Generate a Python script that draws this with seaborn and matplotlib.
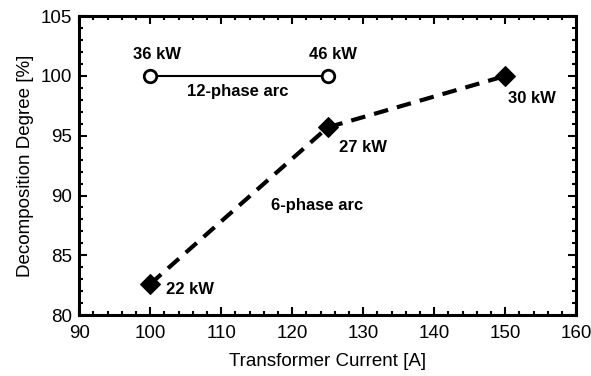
import pandas as pd
import seaborn as sns
import matplotlib.pyplot as plt
from matplotlib.ticker import MultipleLocator

# 6-phase arc (dashed, filled diamonds)
six_current = [100, 125, 150]
six_degree = [82.6, 95.7, 100.0]
six_power = ['22 kW', '27 kW', '30 kW']

# 12-phase arc (solid, open circles)
twelve_current = [100, 125]
twelve_degree = [100.0, 100.0]
twelve_power = ['36 kW', '46 kW']

sns.set_style("ticks")
plt.rcParams['font.family'] = ['Liberation Sans', 'DejaVu Sans']
plt.rcParams.update({'text.color': 'black', 'axes.labelcolor': 'black',
                     'xtick.color': 'black', 'ytick.color': 'black',
                     'axes.edgecolor': 'black'})

six = pd.DataFrame({'current': six_current, 'degree': six_degree})
twelve = pd.DataFrame({'current': twelve_current, 'degree': twelve_degree})

fig, ax = plt.subplots(figsize=(5.91, 3.76), dpi=100)
fig.subplots_adjust(left=0.134, right=0.975, top=0.957, bottom=0.162)

sns.lineplot(data=six, x='current', y='degree', ax=ax, color='black',
             linewidth=3, linestyle=(0, (3.5, 2.2)), marker='D', markersize=10,
             markeredgecolor='black', markerfacecolor='black')
sns.lineplot(data=twelve, x='current', y='degree', ax=ax, color='black',
             linewidth=1.5, marker='o', markersize=9, markerfacecolor='white',
             markeredgecolor='black', markeredgewidth=2)

bold = dict(fontsize=12, fontweight='bold', ha='center', va='center')
ax.text(100.9, 101.8, twelve_power[0], **bold)
ax.text(125.8, 101.8, twelve_power[1], **bold)
ax.text(112.3, 98.7, '12-phase arc', **bold)
ax.text(123.5, 89.2, '6-phase arc', **bold)
ax.text(105.6, 82.1, six_power[0], **bold)
ax.text(129.9, 94.05, six_power[1], **bold)
ax.text(153.8, 98.1, six_power[2], **bold)

ax.set_xlim(90, 160)
ax.set_ylim(80, 105)
ax.xaxis.set_major_locator(MultipleLocator(10))
ax.xaxis.set_minor_locator(MultipleLocator(2))
ax.yaxis.set_major_locator(MultipleLocator(5))
ax.yaxis.set_minor_locator(MultipleLocator(1))
ax.tick_params(which='both', direction='in', top=True, right=True,
               width=1.5, labelsize=13.5, pad=5)
ax.tick_params(axis='x', which='major', pad=7)
ax.tick_params(which='major', length=6)
ax.tick_params(which='minor', length=3)
for s in ax.spines.values():
    s.set_linewidth(2.2)

ax.set_xlabel('Transformer Current [A]', fontsize=13.5, labelpad=8)
ax.set_ylabel('Decomposition Degree [%]', fontsize=13.5, labelpad=5)

fig.savefig('out.png', dpi=100)
